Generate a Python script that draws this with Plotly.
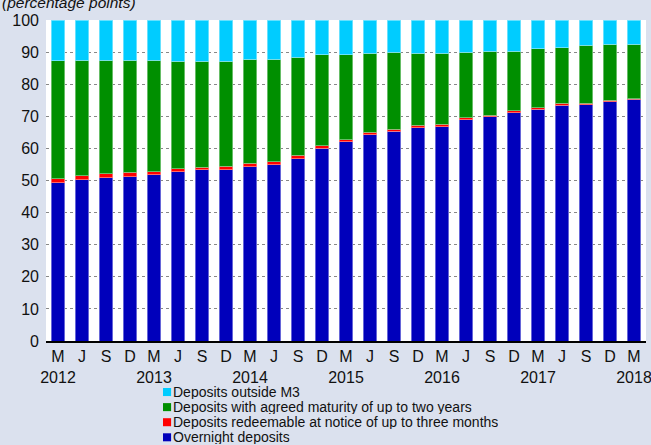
import plotly.graph_objects as go

periods = ["2012Q1","2012Q2","2012Q3","2012Q4","2013Q1","2013Q2","2013Q3","2013Q4",
           "2014Q1","2014Q2","2014Q3","2014Q4","2015Q1","2015Q2","2015Q3","2015Q4",
           "2016Q1","2016Q2","2016Q3","2016Q4","2017Q1","2017Q2","2017Q3","2017Q4","2018Q1"]
tick_labels = ["M<br>2012","J","S","D","M<br>2013","J","S","D","M<br>2014","J","S","D",
               "M<br>2015","J","S","D","M<br>2016","J","S","D","M<br>2017","J","S","D","M<br>2018"]

overnight = [49.3, 50.2, 50.8, 51.1, 51.8, 52.7, 53.3, 53.3, 54.3, 54.9, 56.8, 60.1, 62.0,
             64.3, 65.3, 66.5, 66.8, 69.0, 69.9, 71.1, 72.2, 73.5, 73.6, 74.6, 75.3]
redeemable = [1.2, 1.3, 1.3, 1.4, 1.0, 0.9, 0.9, 1.1, 1.0, 0.9, 1.0, 0.8, 0.7,
              0.7, 0.7, 0.7, 0.7, 0.5, 0.4, 0.6, 0.5, 0.5, 0.5, 0.4, 0.2]
agreed = [36.8, 35.9, 35.3, 35.0, 34.7, 33.6, 33.0, 32.8, 32.5, 32.0, 30.6, 28.3, 26.4,
          24.7, 24.0, 22.4, 22.2, 20.5, 19.9, 18.6, 18.4, 17.4, 18.1, 17.5, 17.0]
outside = [12.7, 12.6, 12.6, 12.5, 12.5, 12.8, 12.8, 12.8, 12.2, 12.2, 11.6, 10.8, 10.9,
           10.3, 10.0, 10.4, 10.3, 10.0, 9.8, 9.7, 8.9, 8.6, 7.8, 7.5, 7.5]

series_names = ["Overnight deposits",
                "Deposits redeemable at notice of up to three months",
                "Deposits with agreed maturity of up to two years",
                "Deposits outside M3"]
series_values = [overnight, redeemable, agreed, outside]
series_colors = ["#0000BB", "#FF0000", "#008F00", "#00CCFF"]
edge_colors = ["#8080e0", "#ff8080", "#80c880", "#80e6ff"]

FONT = "Liberation Sans, Arial, sans-serif"

fig = go.Figure()
for name, vals, col, ec in zip(series_names, series_values, series_colors, edge_colors):
    fig.add_trace(go.Bar(x=periods, y=vals, name=name, marker_color=col,
                         marker_line=dict(color=ec, width=0.8), showlegend=False))

# manual legend (top to bottom: reverse of stacking order)
row_y = [-0.159, -0.206, -0.253, -0.300]
for i, idx in enumerate([3, 2, 1, 0]):
    y = row_y[i]
    fig.add_shape(type="rect", xref="paper", yref="paper",
                  x0=0.195, x1=0.2085, y0=y - 0.0125, y1=y + 0.0125,
                  fillcolor=series_colors[idx], line=dict(width=0))
    fig.add_annotation(xref="paper", yref="paper", x=0.2105, y=y, xanchor="left",
                       yanchor="middle", showarrow=False, text=series_names[idx],
                       height=14, borderpad=0,
                       font=dict(family=FONT, size=14, color="#111111"))

fig.add_annotation(xref="paper", yref="paper", x=-0.0767, y=1.022, xanchor="left",
                   yanchor="bottom", showarrow=False, text="<i>(percentage points)</i>",
                   font=dict(family=FONT, size=15.5, color="#111111"))

fig.update_layout(
    barmode="stack", bargap=0.42,
    width=651, height=445,
    margin=dict(l=46, r=5, t=20, b=104, autoexpand=False),
    paper_bgcolor="#dbe1ee", plot_bgcolor="#ffffff",
    font=dict(family=FONT, size=16, color="#111111"),
)
fig.update_xaxes(type="category", tickmode="array", tickvals=periods, ticktext=tick_labels,
                 tickangle=0, automargin=False,
                 showline=True, linecolor="#000000", linewidth=2, ticks="",
                 showgrid=False, tickfont=dict(size=16))
fig.update_yaxes(range=[0, 100], dtick=10, showgrid=True, gridcolor="#888888",
                 griddash="3px,3px", gridwidth=1, zeroline=False, ticks="",
                 automargin=False, tickfont=dict(size=16), ticklabelstandoff=6)

fig.write_html("out.html", config={"displayModeBar": False},
               post_script="document.body.style.margin='0';document.body.style.background='#dbe1ee';")
